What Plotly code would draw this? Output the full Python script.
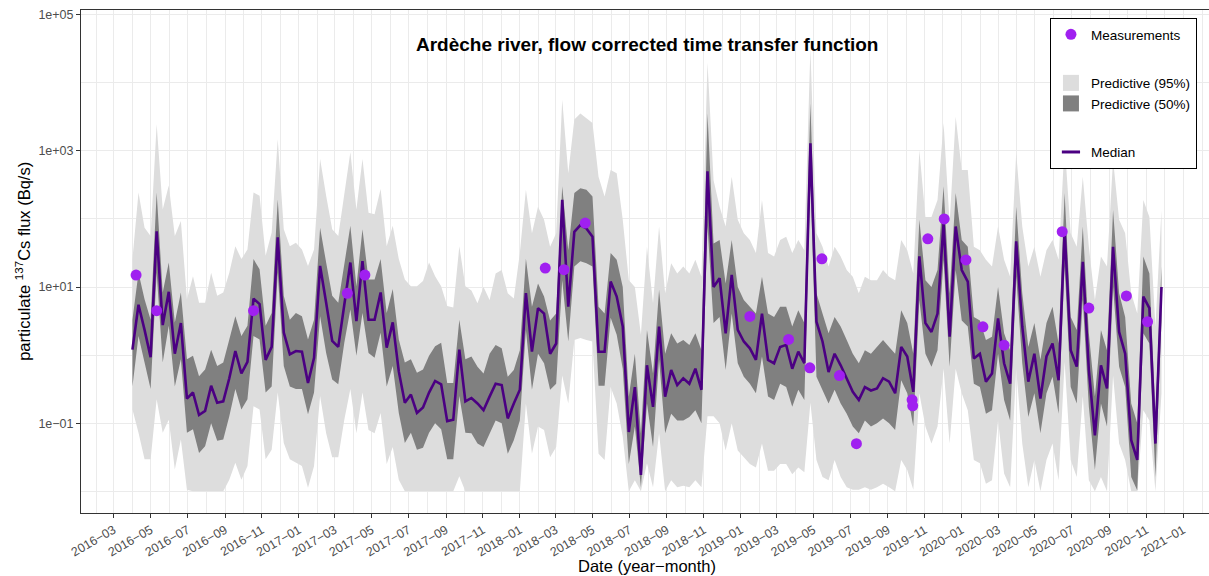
import numpy as np
import pandas as pd
import plotly.graph_objects as go

# model output every 10 days from 2016-04-01 (171 steps); values read as log10(Bq/s)
START = "2016-04-01"
N_STEPS = 171

median_log10 = [
    0.08, 0.74, 0.37, -0.03, 1.82, 0.44, 0.93, 0.02, 0.47, -0.64,
    -0.55, -0.88, -0.82, -0.45, -0.70, -0.68, -0.34, 0.06, -0.27, -0.10,
    0.83, 0.75, -0.07, 0.12, 1.73, 0.33, 0.01, 0.06, 0.05, -0.41,
    -0.04, 1.31, 0.77, 0.21, 0.12, 0.72, 1.36, 0.50, 1.38, 0.52,
    0.52, 0.92, 0.11, 0.48, -0.24, -0.70, -0.58, -0.85, -0.77, -0.55,
    -0.38, -0.43, -0.97, -0.95, 0.08, -0.68, -0.63, -0.71, -0.81, -0.61,
    -0.42, -0.44, -0.93, -0.71, -0.51, 0.91, 0.05, 0.69, 0.61, 0.02,
    0.17, 2.28, 0.71, 1.81, 1.91, 1.86, 1.74, 0.05, 0.05, 1.08,
    0.86, 0.42, -1.13, -0.47, -1.76, -0.15, -0.76, 0.42, -0.61, -0.22,
    -0.44, -0.34, -0.42, -0.20, -0.51, 2.70, 1.00, 1.13, 0.32, 1.18,
    0.37, 0.20, 0.10, -0.07, 0.61, -0.07, -0.12, 0.12, 0.15, -0.20,
    0.05, -0.12, 3.11, 0.49, 0.20, -0.25, 0.02, -0.15, -0.34, -0.54,
    -0.66, -0.47, -0.52, -0.49, -0.34, -0.39, -0.56, 0.12, -0.02, -0.54,
    1.45, 0.47, 0.34, 0.61, 1.94, 0.27, 1.89, 1.25, 1.08, -0.05,
    0.02, -0.39, -0.27, 0.54, -0.12, -0.42, 1.67, 0.42, -0.39, 0.02,
    -0.64, -0.02, 0.17, -0.37, 1.84, 0.07, -0.17, 1.37, -0.22, -1.18,
    -0.15, -0.49, 1.59, 0.34, 0.02, -1.25, -1.54, 0.86, 0.69, -1.30,
    1.00,
]

hi95_log10 = [
    1.41, 2.39, 1.87, 1.75, 3.39, 2.14, 2.49, 1.75, 1.97, 0.82,
    1.16, 0.77, 0.77, 1.21, 0.87, 0.92, 1.21, 1.60, 1.41, 1.55,
    2.39, 2.34, 1.46, 1.80, 3.17, 1.85, 1.60, 1.65, 1.55, 1.31,
    1.55, 2.88, 2.34, 1.85, 1.75, 2.34, 2.98, 2.14, 2.88, 2.09,
    2.07, 2.44, 1.60, 1.90, 1.41, 1.11, 1.01, 1.01, 1.09, 1.36,
    1.16, 1.01, 0.72, 0.70, 1.60, 1.01, 0.95, 0.76, 1.00, 0.81,
    1.20, 1.25, 0.91, 0.83, 1.50, 2.43, 1.79, 2.18, 1.99, 1.59,
    1.79, 3.75, 2.67, 3.46, 3.55, 3.48, 3.41, 2.62, 2.33, 2.72,
    2.67, 1.99, 1.10, 1.00, 0.30, 1.59, 0.76, 1.89, 0.91, 1.35,
    1.20, 1.30, 1.20, 1.40, 1.15, 4.30, 2.57, 2.18, 1.89, 2.62,
    1.99, 1.79, 1.69, 1.50, 2.28, 1.50, 1.45, 1.69, 1.74, 1.50,
    1.69, 1.54, 4.50, 1.79, 1.59, 1.30, 1.59, 1.45, 1.25, 1.15,
    0.91, 1.15, 1.10, 1.10, 1.25, 1.15, 1.10, 1.69, 1.54, 1.20,
    3.01, 2.03, 2.03, 2.28, 3.41, 1.94, 3.50, 2.72, 2.72, 1.59,
    1.54, 1.40, 1.30, 1.89, 1.40, 1.15, 2.97, 1.89, 1.30, 1.59,
    1.15, 1.54, 1.69, 1.40, 3.11, 1.79, 1.59, 2.62, 1.59, 0.81,
    1.45, 1.30, 2.87, 1.99, 1.79, 0.91, 0.61, 2.28, 2.03, 0.42,
    2.13,
]

hi50_log10 = [
    0.52, 1.21, 0.82, 0.52, 2.39, 0.92, 1.36, 0.48, 0.92, -0.06,
    -0.01, -0.31, -0.21, 0.08, -0.16, -0.11, 0.23, 0.57, 0.28, 0.43,
    1.41, 1.26, 0.43, 0.62, 2.29, 0.87, 0.52, 0.62, 0.57, 0.23,
    0.52, 1.87, 1.36, 0.87, 0.77, 1.31, 1.90, 1.01, 1.85, 1.11,
    1.11, 1.41, 0.62, 0.97, 0.23, -0.11, -0.06, -0.26, -0.21, -0.01,
    0.13, 0.18, -0.41, -0.41, 0.52, -0.06, -0.02, -0.17, -0.27, 0.02,
    0.15, 0.10, -0.32, -0.22, 0.07, 1.42, 0.71, 1.05, 0.86, 0.51,
    0.61, 2.48, 1.54, 2.38, 2.45, 2.43, 2.33, 0.71, 0.61, 1.50,
    1.40, 1.00, -0.61, 0.02, -1.15, 0.37, -0.27, 0.96, 0.02, 0.32,
    0.17, 0.22, 0.15, 0.32, 0.07, 3.55, 1.64, 1.69, 1.05, 1.69,
    1.00, 0.81, 0.71, 0.61, 1.15, 0.61, 0.56, 0.71, 0.71, 0.42,
    0.66, 0.47, 3.70, 0.91, 0.61, 0.32, 0.56, 0.42, 0.22, 0.02,
    -0.12, 0.07, 0.02, 0.12, 0.22, 0.12, 0.02, 0.66, 0.47, 0.02,
    1.99, 1.10, 1.00, 1.25, 2.48, 0.91, 2.38, 1.69, 1.59, 0.56,
    0.51, 0.22, 0.27, 1.00, 0.32, 0.07, 2.18, 0.91, 0.12, 0.47,
    -0.07, 0.47, 0.71, 0.17, 2.38, 0.56, 0.37, 1.89, 0.32, -0.61,
    0.37, 0.07, 2.13, 0.91, 0.56, -0.71, -1.00, 1.45, 1.20, -0.86,
    1.30,
]

lo50_log10 = [
    -0.46, 0.28, -0.11, -0.50, 1.21, -0.11, 0.43, -0.46, -0.06, -1.14,
    -1.09, -1.44, -1.34, -1.00, -1.26, -1.24, -0.90, -0.50, -0.80, -0.65,
    0.28, 0.23, -0.55, -0.46, 1.21, -0.16, -0.46, -0.50, -0.50, -0.87,
    -0.55, 0.57, 0.03, -0.36, -0.43, 0.18, 0.67, -0.01, 0.62, 0.03,
    -0.04, 0.33, -0.46, -0.16, -0.85, -1.29, -1.14, -1.39, -1.36, -1.14,
    -1.00, -1.09, -1.53, -1.53, -0.60, -1.14, -1.15, -1.30, -1.35, -1.15,
    -0.96, -1.00, -1.45, -1.25, -0.96, 0.37, -0.51, 0.02, -0.12, -0.51,
    -0.42, 1.10, 0.20, 1.30, 1.38, 1.35, 1.30, -0.45, -0.45, 0.55,
    0.30, -0.20, -1.60, -1.05, -1.94, -0.71, -1.35, -0.07, -1.15, -0.86,
    -0.96, -0.96, -0.91, -0.81, -1.00, 1.90, 0.47, 0.56, -0.22, 0.61,
    -0.12, -0.32, -0.42, -0.56, -0.02, -0.61, -0.66, -0.42, -0.47, -0.76,
    -0.51, -0.66, 2.60, -0.32, -0.51, -0.71, -0.51, -0.71, -0.86, -1.05,
    -1.15, -0.96, -1.05, -1.00, -0.93, -1.00, -1.10, -0.37, -0.56, -1.05,
    0.81, 0.02, -0.17, 0.07, 1.40, -0.17, 1.25, 0.51, 0.42, -0.42,
    -0.47, -0.86, -0.81, 0.02, -0.66, -0.96, 1.15, -0.12, -0.91, -0.56,
    -1.15, -0.56, -0.32, -0.86, 1.30, -0.47, -0.71, 0.81, -0.76, -1.69,
    -0.71, -1.05, 1.00, -0.17, -0.47, -1.79, -1.99, 0.32, 0.17, -1.79,
    0.51,
]

lo95_log10 = [
    -0.80, -1.14, -1.53, -1.53, -0.65, -1.14, -0.95, -1.68, -1.24, -1.98,
    -2.00, -2.00, -2.00, -2.00, -2.00, -2.00, -1.83, -1.58, -1.83, -1.63,
    -0.75, -0.80, -1.53, -1.39, -0.55, -1.29, -1.53, -1.58, -1.63, -1.95,
    -1.63, -0.60, -1.15, -1.50, -1.50, -0.95, -0.50, -1.15, -0.55, -1.10,
    -1.15, -0.85, -1.60, -1.35, -1.83, -2.00, -2.00, -2.00, -2.00, -2.00,
    -2.00, -2.00, -2.00, -2.00, -1.78, -2.00, -2.00, -2.00, -2.00, -2.00,
    -2.00, -2.00, -2.00, -2.00, -2.00, -0.71, -1.45, -1.05, -1.10, -1.50,
    -1.35, -0.30, -0.71, 0.22, 0.25, 0.22, 0.20, -1.45, -1.54, -0.47,
    -0.71, -1.20, -2.00, -1.84, -2.00, -1.59, -1.94, -1.15, -2.00, -1.84,
    -1.94, -1.92, -1.94, -1.84, -1.94, -0.90, -0.90, -1.00, -1.40, -1.00,
    -1.40, -1.50, -1.60, -1.65, -1.30, -1.70, -1.70, -1.60, -1.60, -1.75,
    -1.65, -1.72, -0.70, -1.54, -1.79, -1.84, -1.54, -1.79, -1.94, -1.98,
    -1.98, -1.94, -1.98, -1.94, -1.89, -1.94, -2.00, -1.54, -1.69, -1.98,
    -0.56, -1.05, -1.30, -1.05, -0.20, -1.30, -0.20, -0.56, -0.81, -1.54,
    -1.59, -1.89, -1.84, -0.96, -1.74, -1.94, -0.20, -1.30, -1.94, -1.54,
    -2.00, -1.54, -1.30, -1.84, -0.10, -1.54, -1.79, -0.60, -1.84, -2.00,
    -1.79, -2.00, -0.30, -1.30, -1.54, -2.00, -2.00, -0.81, -0.96, -2.00,
    -0.56,
]

meas_dates = [
    "2016-04-07", "2016-05-11", "2016-10-18", "2017-03-22", "2017-04-20",
    "2018-02-12", "2018-03-15", "2018-04-19", "2019-01-16", "2019-03-21",
    "2019-04-25", "2019-05-15", "2019-06-13", "2019-07-11", "2019-10-11",
    "2019-10-12", "2019-11-06", "2019-12-03", "2020-01-08", "2020-02-05",
    "2020-03-11", "2020-06-15", "2020-07-29", "2020-09-29", "2020-11-03",
]
meas_values = [
    15, 4.5, 4.5, 8.1, 15,
    19, 18, 87, 3.7, 1.7,
    0.65, 26, 0.50, 0.050, 0.22,
    0.18, 51, 100, 25, 2.6,
    1.4, 65, 4.9, 7.4, 3.1,
]

LIGHT = "#DDDDDD"
DARK = "#808080"
MEDIAN_COL = "#4B0082"
POINT_COL = "#A020F0"
GRID = "#EBEBEB"
FONT = "Liberation Sans, Arial, sans-serif"

dates = pd.date_range(START, periods=N_STEPS, freq="10D")
med = 10 ** np.array(median_log10)
lo95, hi95 = 10 ** np.array(lo95_log10), 10 ** np.array(hi95_log10)
lo50, hi50 = 10 ** np.array(lo50_log10), 10 ** np.array(hi50_log10)

fig = go.Figure()
# ribbons: lower edge first, upper edge fills down to it
for lo, hi, col in [(lo95, hi95, LIGHT), (lo50, hi50, DARK)]:
    fig.add_trace(go.Scatter(x=dates, y=lo, mode="lines", line=dict(width=0, color=col),
                             showlegend=False, hoverinfo="skip"))
    fig.add_trace(go.Scatter(x=dates, y=hi, mode="lines", line=dict(width=0, color=col),
                             fill="tonexty", fillcolor=col, showlegend=False))
fig.add_trace(go.Scatter(x=dates, y=med, mode="lines", name="Median",
                         line=dict(color=MEDIAN_COL, width=2.6), showlegend=False))
fig.add_trace(go.Scatter(x=pd.to_datetime(meas_dates), y=meas_values, mode="markers",
                         name="Measurements", marker=dict(color=POINT_COL, size=11),
                         legendgroup="meas", legendrank=1))

# legend-only keys, shaped like the ggplot keys
for name, col, rank in [("Predictive (95%)", LIGHT, 2), ("Predictive (50%)", DARK, 3)]:
    fig.add_trace(go.Scatter(x=[None], y=[None], mode="markers", name=name,
                             marker=dict(symbol="square", size=20, color=col),
                             legendgroup="pred", legendrank=rank))
fig.add_trace(go.Scatter(x=[None], y=[None], mode="markers", name="Median",
                         marker=dict(symbol="line-ew-open", size=13, color=MEDIAN_COL,
                                     line=dict(color=MEDIAN_COL, width=3)),
                         legendgroup="med", legendrank=4))

major_ticks = pd.date_range("2016-03-01", "2021-01-01", freq="2MS")
minor_ticks = pd.date_range("2016-02-01", "2021-02-01", freq="2MS")

fig.update_xaxes(
    range=["2016-01-07", "2021-02-12 12:00"],
    tickmode="array", tickvals=major_ticks,
    ticktext=[d.strftime("%Y\u2212%m") for d in major_ticks],
    tickangle=-30, tickfont=dict(size=12.5, color="#4D4D4D"),
    ticks="outside", ticklen=4, tickcolor="#333333",
    showgrid=True, gridcolor=GRID, gridwidth=1.1,
    minor=dict(tickmode="array", tickvals=minor_ticks, showgrid=True,
               gridcolor=GRID, gridwidth=0.6, ticklen=0),
    showline=True, linecolor="#333333", linewidth=1, mirror=True,
    zeroline=False,
)
fig.update_yaxes(
    type="log", range=[-2.32, 5.07],
    tickmode="array", tickvals=[1e-1, 1e1, 1e3, 1e5],
    ticktext=["1e\u221201", "1e+01", "1e+03", "1e+05"],
    tickfont=dict(size=12.5, color="#4D4D4D"),
    ticks="outside", ticklen=4, tickcolor="#333333",
    showgrid=True, gridcolor=GRID, gridwidth=1.1,
    minor=dict(tickmode="array", tickvals=[1e-2, 1e0, 1e2, 1e4], showgrid=True,
               gridcolor=GRID, gridwidth=0.6, ticklen=0),
    showline=True, linecolor="#333333", linewidth=1,
    zeroline=False,
)

fig.add_annotation(text="<b>Ard\u00e8che river, flow corrected time transfer function</b>",
                   xref="paper", yref="paper", x=0.502, y=0.931, showarrow=False,
                   font=dict(size=19, color="black"), xanchor="center", yanchor="middle")
fig.add_annotation(text="Date (year\u2212month)", xref="paper", yref="paper",
                   x=0.502, y=-0.105, showarrow=False, xanchor="center", yanchor="middle",
                   font=dict(size=16.5, color="black"))
fig.add_annotation(text="particulate <sup>137</sup>Cs flux (Bq/s)", xref="paper", yref="paper",
                   x=-0.052, y=0.5, showarrow=False, textangle=-90,
                   xanchor="center", yanchor="middle", font=dict(size=16.5, color="black"))

fig.update_layout(
    width=1209, height=576,
    margin=dict(l=81, r=0, t=10, b=63),
    plot_bgcolor="white", paper_bgcolor="white",
    font=dict(family=FONT, color="black"),
    legend=dict(x=0.859, y=0.984, xanchor="left", yanchor="top",
                bgcolor="white", bordercolor="black", borderwidth=1,
                traceorder="grouped", tracegroupgap=28, itemwidth=30,
                font=dict(size=13.5, color="black")),
)

# drop the default page margin so the 1209x576 figure fills the window exactly
fig.write_html("out.html", config={"displayModeBar": False},
               post_script="document.body.style.margin='0';")
